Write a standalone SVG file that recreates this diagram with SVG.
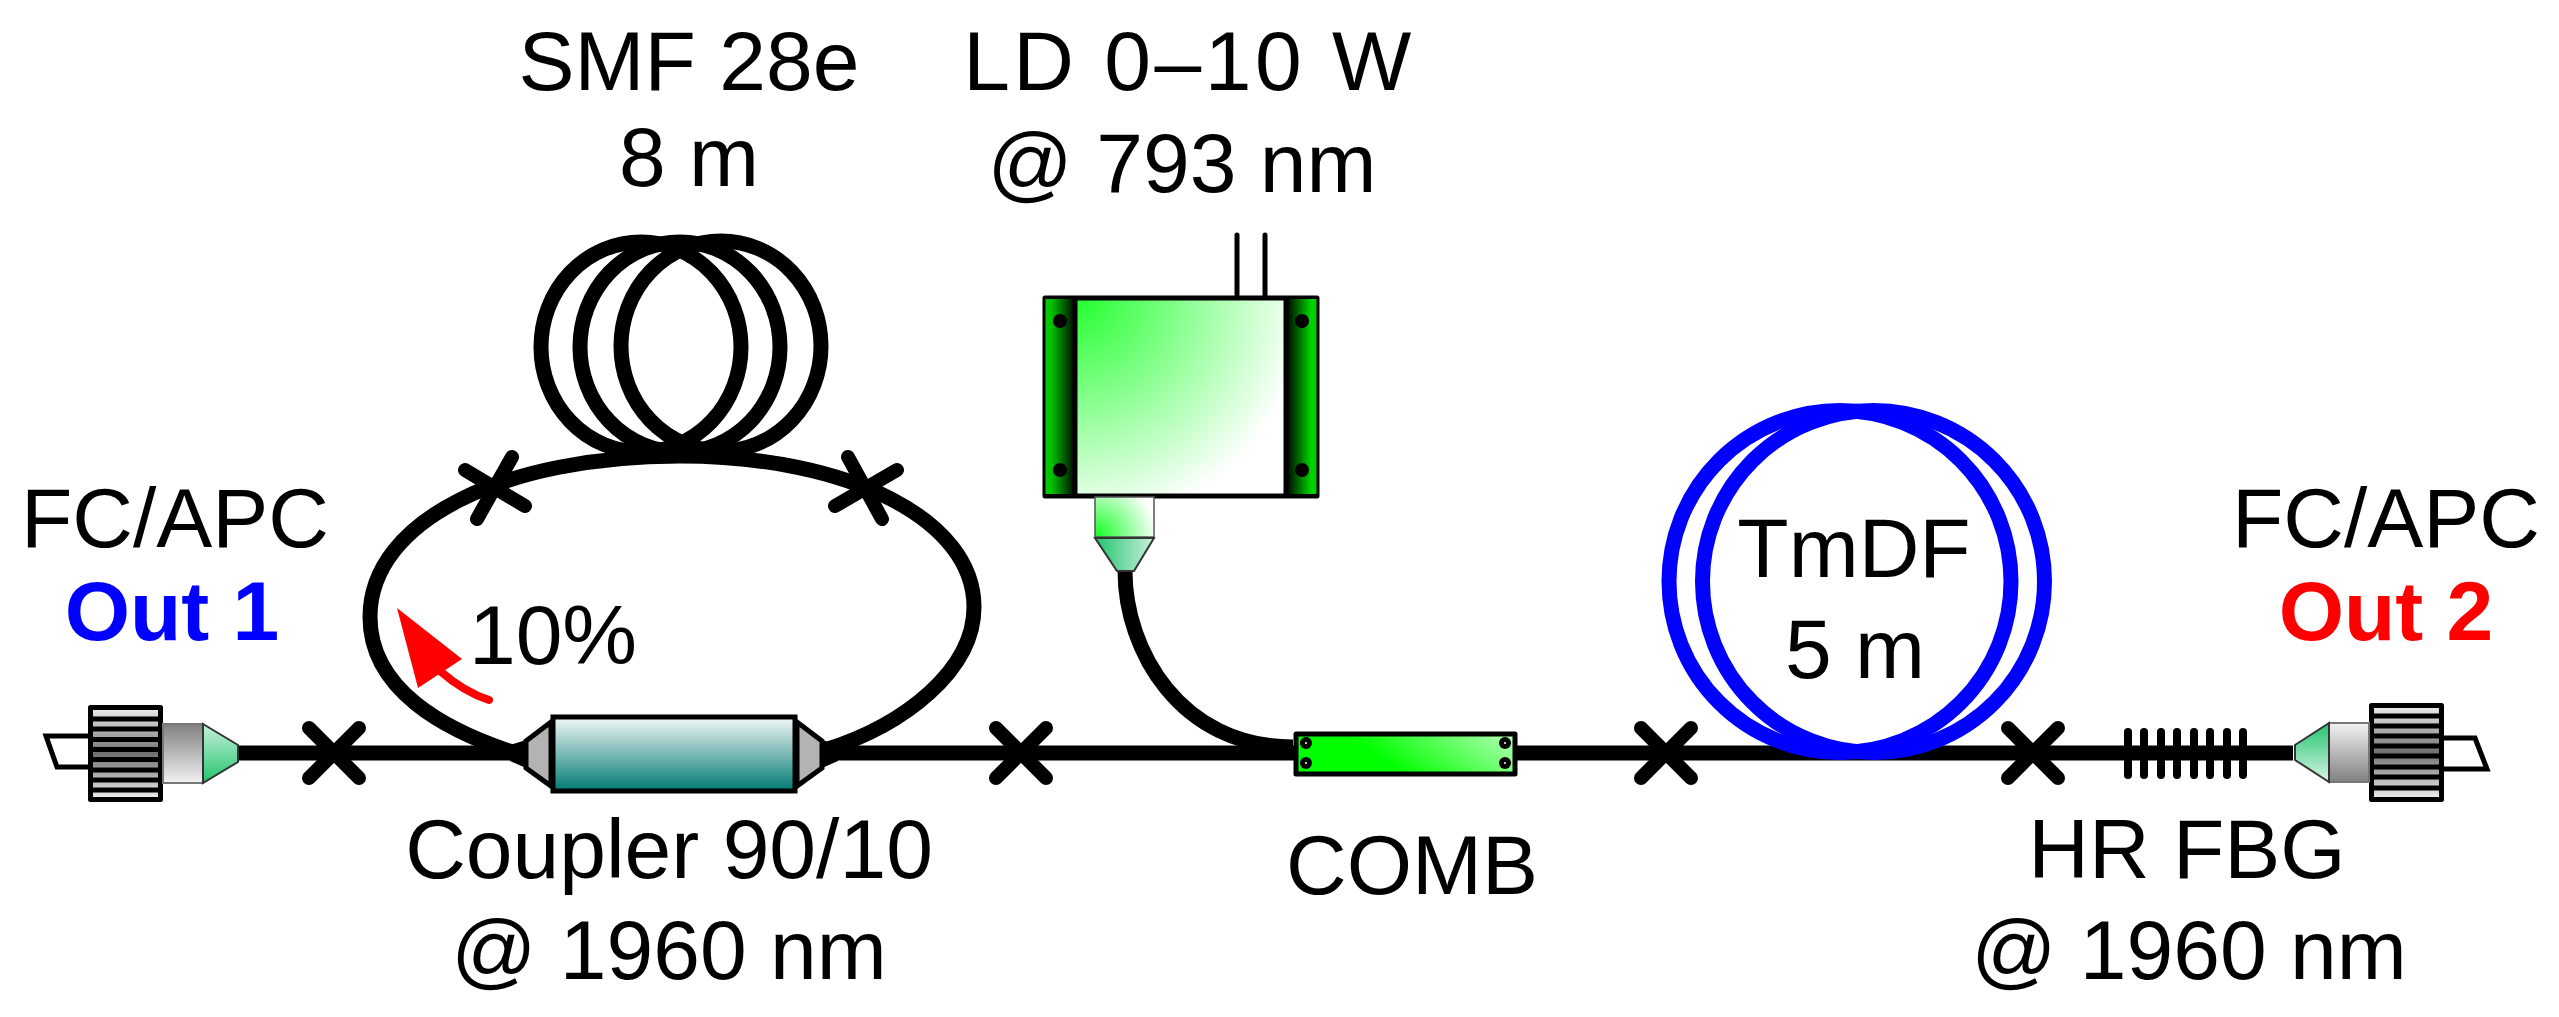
<svg xmlns="http://www.w3.org/2000/svg" width="2559" height="1017" viewBox="0 0 2559 1017">
<style>
text{font-family:"Liberation Sans",Arial,sans-serif;font-size:84px;text-anchor:middle;fill:#000}
.b{font-weight:bold}
.f{fill:none;stroke:#000;stroke-width:15}
.x{fill:none;stroke:#000;stroke-width:14;stroke-linecap:round}
.k{stroke:#000;stroke-width:5;stroke-linejoin:round}
.t{fill:none;stroke:#000;stroke-width:8;stroke-linecap:round}
.bc{fill:none;stroke:#0000ff;stroke-width:15}
.s{stroke:#000;stroke-width:5}
.g{fill:#b3b3b3;stroke:#000;stroke-width:5}
</style>
<defs>
<linearGradient id="cg" x1="0" y1="0" x2="0" y2="1"><stop offset="0" stop-color="#f4f8f8"/><stop offset="1" stop-color="#007a72"/></linearGradient>
<linearGradient id="g1" x1="0" y1="0" x2="0" y2="1"><stop offset="0" stop-color="#808080"/><stop offset="1" stop-color="#f2f2f2"/></linearGradient>
<linearGradient id="g2" x1="0" y1="0" x2="0" y2="1"><stop offset="0" stop-color="#f2f2f2"/><stop offset="1" stop-color="#808080"/></linearGradient>
<linearGradient id="kn" x1="0" y1="0" x2="0" y2="1"><stop offset="0" stop-color="#f0f0f0"/><stop offset=".5" stop-color="#707070"/><stop offset="1" stop-color="#f0f0f0"/></linearGradient>
<linearGradient id="c1" x1="0" y1="0" x2="0" y2="1"><stop offset="0" stop-color="#c8f0dc"/><stop offset="1" stop-color="#22c46e"/></linearGradient>
<linearGradient id="c2" x1="0" y1="0" x2="0" y2="1"><stop offset="0" stop-color="#22c46e"/><stop offset="1" stop-color="#d8f5e6"/></linearGradient>
<linearGradient id="c3" x1="0" y1="0" x2="1" y2="0"><stop offset="0" stop-color="#22c46e"/><stop offset="1" stop-color="#c8f0dc"/></linearGradient>
<linearGradient id="bl" x1="0" y1="0" x2="1" y2="0"><stop offset="0" stop-color="#00d000"/><stop offset=".25" stop-color="#00b800"/><stop offset="1" stop-color="#000"/></linearGradient>
<linearGradient id="br" x1="0" y1="0" x2="1" y2="0"><stop offset="0" stop-color="#000"/><stop offset=".8" stop-color="#00d000"/><stop offset="1" stop-color="#00d000"/></linearGradient>
<radialGradient id="ld" gradientUnits="userSpaceOnUse" cx="1076" cy="296" r="230"><stop offset="0" stop-color="#22ff2e"/><stop offset="1" stop-color="#fff"/></radialGradient>
<radialGradient id="nk" gradientUnits="userSpaceOnUse" cx="1095" cy="537" r="62"><stop offset="0" stop-color="#10ff20"/><stop offset="1" stop-color="#fff"/></radialGradient>
<linearGradient id="cb" gradientUnits="userSpaceOnUse" x1="1440" y1="800" x2="1510" y2="700"><stop offset="0" stop-color="#00ff00"/><stop offset="1" stop-color="#e8ffe8"/></linearGradient>
</defs>
<g id="connectors">
<path class="f" d="M238 753H2293"/>
<path class="f" d="M512 752C445 730 370 690 370 617C370 520 505 456 680 456C850 456 974 520 974 607C974 670 905 725 825 750"/>
<path class="f" d="M1125 571C1125 650 1180 747 1293 747"/>
</g>
<g id="coil">
<ellipse class="f" cx="641" cy="347" rx="100" ry="105"/>
<ellipse class="f" cx="680" cy="347" rx="100" ry="105"/>
<ellipse class="f" cx="721" cy="346" rx="100" ry="105"/>
</g>
<g id="tmdf">
<circle class="bc" cx="1840" cy="581.5" r="171"/>
<circle class="bc" cx="1873.5" cy="581.5" r="171"/>
</g>
<g id="splices">
<path class="x" d="M465 470L525 506M512 457L477 519"/>
<path class="x" d="M848 457L882 519M897 470L835 506"/>
<path class="x" d="M334 753m-25-25l50 50m0-50l-50 50"/>
<path class="x" d="M1021 753m-25-25l50 50m0-50l-50 50"/>
<path class="x" d="M1666 753m-25-25l50 50m0-50l-50 50"/>
<path class="x" d="M2033 753m-25-25l50 50m0-50l-50 50"/>
</g>
<g id="connector-left">
<path d="M88 736H46L57 767H88" fill="#fff" stroke="#000" stroke-width="5"/>
<rect x="90.5" y="707.5" width="70" height="92" class="k" fill="url(#kn)"/>
<path class="s" d="M90 719H161M90 729H161M90 739.500H161M90 749.500H161M90 759.500H161M90 770H161M90 780H161M90 790H161"/>
<rect x="163" y="724" width="40" height="59" fill="url(#g1)" stroke="#777" stroke-width="2"/>
<path d="M203 724L238 745V762L203 783Z" fill="url(#c1)" stroke="#333" stroke-width="2"/>
</g>
<g id="connector-right">
<path d="M2443 738H2475L2487 769H2443" fill="#fff" stroke="#000" stroke-width="5"/>
<rect x="2371.500" y="705.500" width="70" height="94" class="k" fill="url(#kn)"/>
<path class="s" d="M2371 716H2442M2371 726H2442M2371 736H2442M2371 746H2442M2371 756H2442M2371 767H2442M2371 777H2442M2371 788H2442"/>
<rect x="2329" y="723" width="40" height="59" fill="url(#g2)" stroke="#777" stroke-width="2"/>
<path d="M2329 723L2295 745V760L2329 782Z" fill="url(#c2)" stroke="#333" stroke-width="2"/>
</g>
<g id="fbg"><path class="t" d="M2128 732V775M2144 732V775M2161 732V775M2177 732V775M2194 732V775M2210 732V775M2227 732V775M2243 732V775"/></g>
<g id="coupler">
<path class="g" d="M526 741L551 722V786L526 768Z"/>
<path class="g" d="M822 741L797 722V786L822 768Z"/>
<path d="M510 745L526 740V768L510 761ZM838 745L822 740V768L838 761Z"/>
<rect x="553" y="717" width="242" height="74" fill="url(#cg)" stroke="#000" stroke-width="5"/>
</g>
<g id="ld">
<path d="M1237 296V235M1265 296V235" fill="none" stroke="#000" stroke-width="5" stroke-linecap="round"/>
<rect x="1045" y="298" width="272" height="198" fill="url(#ld)" stroke="#000" stroke-width="5" stroke-linejoin="round"/>
<rect x="1045.500" y="299" width="30" height="195" fill="url(#bl)"/>
<rect x="1286.500" y="299" width="30" height="195" fill="url(#br)"/>
<path d="M1075 297V496M1286 297V496" stroke="#000" stroke-width="5"/>
<circle cx="1060" cy="321" r="7"/><circle cx="1060" cy="470" r="7"/><circle cx="1302" cy="321" r="7"/><circle cx="1302" cy="470" r="7"/>
<rect x="1095" y="497" width="59" height="40" fill="url(#nk)" stroke="#555" stroke-width="1.500"/>
<path d="M1095 538H1154L1134 571H1117Z" fill="url(#c3)" stroke="#333" stroke-width="2"/>
</g>
<g id="comb">
<rect x="1296" y="734" width="219" height="40" fill="url(#cb)" stroke="#000" stroke-width="5" stroke-linejoin="round"/>
<g fill="#000"><circle cx="1306" cy="743" r="6"/><circle cx="1306" cy="763" r="6"/><circle cx="1505" cy="743" r="6"/><circle cx="1505" cy="763" r="6"/></g>
<g fill="#fff"><circle cx="1306" cy="743" r="1"/><circle cx="1306" cy="763" r="1"/><circle cx="1505" cy="743" r="1"/><circle cx="1505" cy="763" r="1"/></g>
</g>
<g id="arrow">
<path d="M489 700C470 694 455 684 440 671" fill="none" stroke="#f00" stroke-width="8" stroke-linecap="round"/>
<path d="M397 608L462 659L418 688Z" fill="#f00"/>
</g>
<g id="labels">
<text x="689" y="90">SMF 28e</text><text x="689" y="186">8 m</text>
<text x="1189" y="90" letter-spacing="3.500">LD 0–10 W</text><text x="1182" y="192">@ 793 nm</text>
<text x="175" y="547">FC/APC</text><text x="172" y="640" class="b" style="fill:#00f">Out 1</text>
<text x="553" y="664">10%</text>
<text x="669" y="878">Coupler 90/10</text><text x="669" y="979">@ 1960 nm</text>
<text x="1412" y="894">COMB</text>
<text x="1854" y="577">TmDF</text><text x="1855" y="678">5 m</text>
<text x="2187" y="878">HR FBG</text><text x="2189" y="979">@ 1960 nm</text>
<text x="2386" y="547">FC/APC</text><text x="2386" y="640" class="b" style="fill:#f00">Out 2</text>
</g>
</svg>
